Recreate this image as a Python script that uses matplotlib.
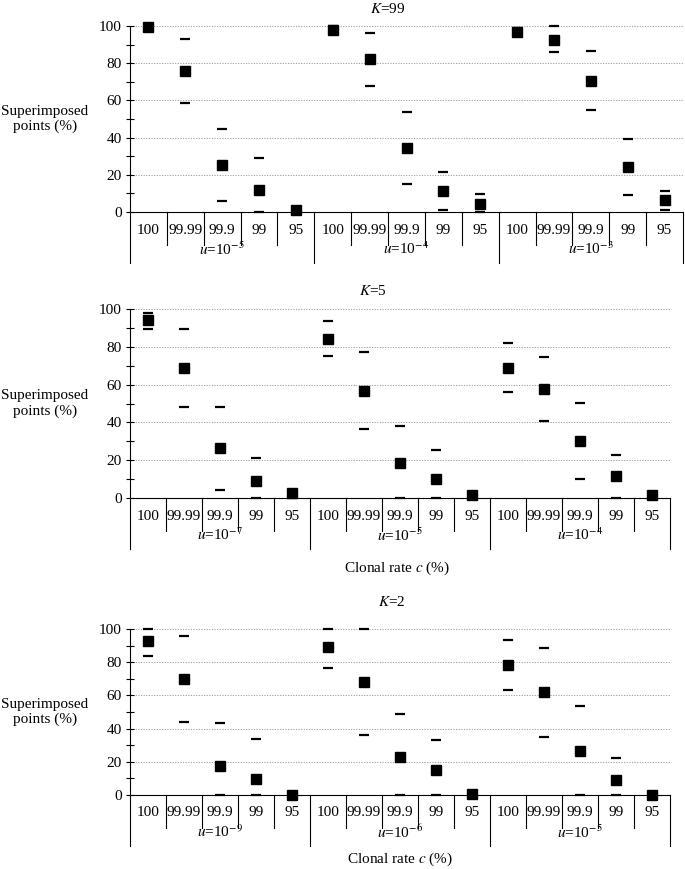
import numpy as np
import matplotlib.pyplot as plt
from matplotlib.transforms import blended_transform_factory
from matplotlib.ticker import MultipleLocator

plt.rcParams['font.family'] = ['Liberation Serif', 'DejaVu Serif']
plt.rcParams['mathtext.fontset'] = 'stix'

rates = ['100', '99.99', '99.9', '99', '95']
k_labels = ['99', '5', '2']
u_exps = [['-5', '-4', '-3'], ['-7', '-5', '-4'], ['-9', '-6', '-5']]

# K=99
k99_mean = [99.5, 75.7, 25.4, 12.0, 1.3,
            97.9, 82.1, 34.3, 11.4, 4.3,
            96.6, 92.7, 70.5, 24.2, 6.4]
k99_upper = [100, 93.0, 44.7, 29.3, 2.5,
             100, 96.4, 53.8, 21.5, 9.7,
             99.0, 100, 86.6, 39.2, 11.3]
k99_lower = [99.0, 58.7, 5.9, 0.0, 0.0,
             96.0, 68.0, 15.2, 1.0, 0.0,
             94.5, 85.9, 54.7, 9.1, 1.3]

# K=5
k5_mean = [94.0, 68.8, 26.3, 9.2, 2.5,
           84.3, 56.6, 18.7, 10.0, 1.4,
           68.8, 57.7, 30.3, 11.5, 1.4]
k5_upper = [98.1, 89.6, 48.3, 21.2, 4.0,
            93.5, 77.2, 38.3, 25.4, 3.0,
            82.0, 74.8, 50.4, 22.8, 3.0]
k5_lower = [89.6, 48.1, 4.1, 0.0, 0.0,
            75.1, 36.5, 0.0, 0.0, 0.0,
            56.1, 40.7, 10.0, 0.0, 0.0]

# K=2
k2_mean = [92.6, 70.0, 17.3, 9.5, 0.0,
           89.1, 68.2, 22.9, 14.9, 0.6,
           78.1, 61.8, 26.6, 8.9, 0.0]
k2_upper = [100, 96.0, 43.3, 33.6, 0.0,
            100, 100, 48.7, 33.4, 1.0,
            93.4, 88.5, 53.9, 22.5, 0.0]
k2_lower = [83.5, 43.9, 0.0, 0.0, 0.0,
            76.3, 36.0, 0.0, 0.0, 0.0,
            63.2, 34.8, 0.0, 0.0, 0.0]

means = [k99_mean, k5_mean, k2_mean]
uppers = [k99_upper, k5_upper, k2_upper]
lowers = [k99_lower, k5_lower, k2_lower]

W, H = 685, 869
# left, right, top, bottom in pixels
boxes = [(130, 683, 26, 212), (130, 670, 309, 498), (130, 670, 629, 795)]
title_pos = [(388, 9), (373, 291), (392, 602)]
xlabel_pos = [None, (397, 568), (400, 859)]

fig = plt.figure(figsize=(W / 100, H / 100), dpi=100)

for p in range(3):
    l, r, t, b = boxes[p]
    ax = fig.add_axes([l / W, 1 - b / H, (r - l) / W, (b - t) / H])
    h = b - t
    x = np.arange(15)

    ax.set_xlim(-0.5, 14.5)
    ax.set_ylim(0, 100)
    ax.yaxis.set_major_locator(MultipleLocator(20))
    ax.yaxis.set_minor_locator(MultipleLocator(10))
    ax.set_xticks([])
    ax.tick_params(axis='y', which='both', direction='inout', length=6,
                   width=0.8, labelsize=11, pad=3)
    for s in ['top', 'right']:
        ax.spines[s].set_visible(False)
    for s in ['left', 'bottom']:
        ax.spines[s].set_linewidth(0.8)
    for g in range(20, 101, 20):
        ax.axhline(g, color='#999999', lw=0.7, ls=(0, (1.2, 1.5)), zorder=0)

    ax.plot(x, uppers[p], ls='none', marker='_', ms=7.5, mew=1.6,
            color='black', clip_on=False, zorder=3)
    ax.plot(x, lowers[p], ls='none', marker='_', ms=7.5, mew=1.6,
            color='black', clip_on=False, zorder=3)
    ax.plot(x, means[p], ls='none', marker='s', ms=7.5, color='black',
            clip_on=False, zorder=4)

    tr = blended_transform_factory(ax.transData, ax.transAxes)
    for i in range(16):
        xs = i - 0.5
        depth = 51 if i % 5 == 0 else 33
        ax.plot([xs, xs], [0, -depth / h], color='black', lw=0.8,
                transform=tr, clip_on=False)
    for i in range(15):
        ax.text(i, -18 / h, rates[i % 5], transform=tr, ha='center',
                va='center', fontsize=11)
    for g in range(3):
        ax.text(g * 5 + 2, -37 / h,
                r'$\mathit{u}$=10$^{' + u_exps[p][g] + '}$',
                transform=tr, ha='center', va='center', fontsize=11)

    ax.text(-85 / (r - l), 0.5, 'Superimposed\npoints (%)',
            transform=ax.transAxes, ha='center', va='center', fontsize=11,
            linespacing=1.15)

    tx, ty = title_pos[p]
    fig.text(tx / W, 1 - ty / H, r'$\mathit{K}$=' + k_labels[p],
             ha='center', va='center', fontsize=11)
    if xlabel_pos[p] is not None:
        lx, ly = xlabel_pos[p]
        fig.text(lx / W, 1 - ly / H, r'Clonal rate $\mathit{c}$ (%)',
                 ha='center', va='center', fontsize=11)

fig.savefig('out.png', dpi=100)
